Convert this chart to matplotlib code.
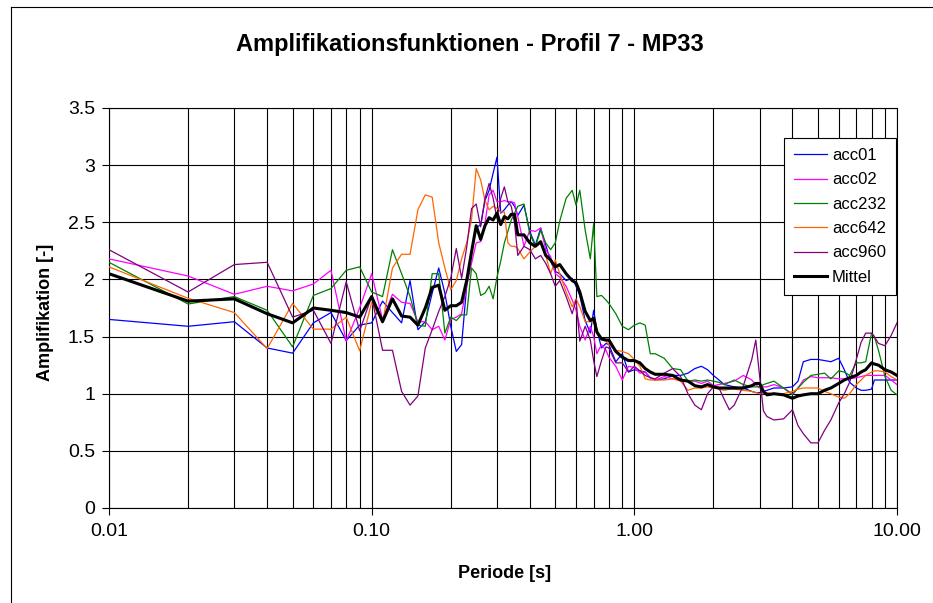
import matplotlib
matplotlib.use("Agg")
import matplotlib.pyplot as plt
from matplotlib.lines import Line2D
from matplotlib.ticker import FixedLocator, NullFormatter

plt.rcParams['font.family'] = ['Liberation Sans', 'DejaVu Sans']

# Periods [s]
period = [
    0.01, 0.02, 0.03, 0.04, 0.05, 0.06, 0.07, 0.08, 0.09, 0.10,
    0.11, 0.12, 0.13, 0.14, 0.15, 0.16, 0.17, 0.18, 0.19, 0.20,
    0.21, 0.22, 0.23, 0.24, 0.25, 0.26, 0.27, 0.28, 0.29, 0.30,
    0.31, 0.32, 0.33, 0.34,
    0.35, 0.36, 0.38, 0.40, 0.42, 0.44, 0.46, 0.48, 0.50, 0.52,
    0.55, 0.58, 0.60, 0.62, 0.65, 0.68, 0.70, 0.72, 0.75, 0.78,
    0.80, 0.85, 0.90, 0.95, 1.00,
    1.05, 1.1, 1.15, 1.2, 1.3, 1.4, 1.5, 1.6, 1.7, 1.8,
    1.9, 2.0, 2.1, 2.2, 2.3, 2.4, 2.6, 2.8, 2.9, 3.0,
    3.1, 3.2, 3.4, 3.7, 4.0, 4.2, 4.4, 4.7, 5.0, 5.3,
    5.6, 6.0, 6.3, 6.6, 7.0, 7.3, 7.6, 8.0, 8.2, 8.5,
    9.0, 9.5, 10.0,
]

acc01 = [
    1.65, 1.59, 1.63, 1.40, 1.355, 1.62, 1.71, 1.465, 1.60, 1.62,
    1.81, 1.71, 1.62, 1.99, 1.56, 1.63, 1.88, 2.10, 1.88, 1.59,
    1.37, 1.43, 1.94, 2.24, 2.45, 2.48, 2.69, 2.78, 2.93, 3.07,
    2.58, 2.61, 2.65, 2.68,
    2.64, 2.56, 2.65, 2.42, 2.30, 2.45, 2.30, 2.16, 2.07, 2.05,
    1.99, 2.01, 1.94, 1.86, 1.64, 1.53, 1.73, 1.56, 1.40, 1.44,
    1.43, 1.28, 1.35, 1.19, 1.21,
    1.20, 1.19, 1.14, 1.12, 1.13, 1.16, 1.16, 1.18, 1.22, 1.24,
    1.21, 1.16, 1.12, 1.08, 1.07, 1.06, 1.05, 1.02, 1.01, 1.01,
    1.02, 1.03, 1.05, 1.05, 1.06, 1.11, 1.28, 1.30, 1.30, 1.29,
    1.28, 1.31, 1.21, 1.10, 1.05, 1.03, 1.03, 1.04, 1.12, 1.12,
    1.12, 1.12, 1.12,
]

acc02 = [
    2.18, 2.03, 1.87, 1.94, 1.90, 1.96, 2.08, 1.46, 1.75, 2.05,
    1.65, 1.87, 1.80, 1.79, 1.63, 1.63, 1.56, 1.59, 1.47, 1.65,
    1.67, 1.70, 1.94, 2.14, 2.32, 2.33, 2.49, 2.74, 2.78, 2.68,
    2.68, 2.69, 2.68, 2.68,
    2.67, 2.55, 2.29, 2.43, 2.42, 2.45, 2.26, 2.20, 2.05, 2.02,
    1.94, 1.82, 1.73, 1.59, 1.47, 1.59, 1.50, 1.35, 1.43, 1.38,
    1.32, 1.24, 1.12, 1.24, 1.23,
    1.18, 1.19, 1.14, 1.12, 1.15, 1.13, 1.12, 1.11, 1.11, 1.09,
    1.11, 1.07, 1.08, 1.09, 1.10, 1.11, 1.16, 1.12, 1.08, 1.05,
    1.06, 1.06, 1.08, 1.05, 1.00, 1.05, 1.12, 1.15, 1.14, 1.14,
    1.14, 1.13, 1.13, 1.13, 1.14, 1.15, 1.16, 1.16, 1.16, 1.16,
    1.16, 1.12, 1.08,
]

acc232 = [
    2.15, 1.785, 1.85, 1.73, 1.41, 1.86, 1.92, 2.08, 2.11, 1.89,
    1.85, 2.26, 2.05, 1.85, 1.60, 1.59, 2.05, 2.05, 1.53, 1.67,
    1.64, 1.69, 1.69, 2.10, 2.05, 1.86, 1.88, 1.94, 1.83, 2.02,
    2.16, 2.32, 2.42, 2.52,
    2.58, 2.64, 2.66, 2.40, 2.29, 2.43, 2.32, 2.26, 2.32, 2.51,
    2.71, 2.78, 2.65, 2.78, 2.43, 2.18, 2.49, 1.85, 1.86, 1.82,
    1.79, 1.70, 1.59, 1.56, 1.60,
    1.62, 1.60, 1.35, 1.35, 1.31, 1.22, 1.21, 1.11, 1.12, 1.11,
    1.12, 1.11, 1.10, 1.08, 1.10, 1.12, 1.08, 1.06, 1.06, 1.06,
    1.08, 1.09, 1.11, 1.05, 0.99, 1.05, 1.10, 1.16, 1.17, 1.18,
    1.13, 1.20, 1.19, 1.16, 1.27, 1.27, 1.28, 1.53, 1.50, 1.38,
    1.15, 1.03, 0.99,
]

acc642 = [
    2.11, 1.835, 1.71, 1.395, 1.79, 1.565, 1.565, 1.67, 1.375, 1.80,
    1.62, 2.10, 2.22, 2.22, 2.61, 2.74, 2.72, 2.32, 2.10, 1.91,
    1.99, 2.18, 2.32, 2.52, 2.97, 2.87, 2.69, 2.61, 2.64, 2.62,
    2.59, 2.59, 2.32, 2.29,
    2.29, 2.27, 2.18, 2.24, 2.29, 2.32, 2.21, 2.05, 2.17, 2.05,
    1.89, 1.76, 1.83, 1.76, 1.63, 1.63, 1.63, 1.53, 1.47, 1.46,
    1.43, 1.38, 1.37, 1.35, 1.30,
    1.24, 1.13, 1.12, 1.12, 1.12, 1.13, 1.11, 1.03, 1.05, 1.05,
    1.06, 1.05, 1.04, 1.03, 1.04, 1.04, 1.03, 1.02, 1.01, 1.00,
    1.00, 1.01, 1.00, 1.00, 1.02, 1.04, 1.05, 1.05, 1.05, 1.02,
    1.00, 0.97, 0.96, 1.00, 1.08, 1.12, 1.16, 1.19, 1.20, 1.20,
    1.19, 1.15, 1.12,
]

acc960 = [
    2.26, 1.89, 2.13, 2.15, 1.67, 1.73, 1.44, 1.98, 1.55, 1.85,
    1.38, 1.38, 1.02, 0.90, 0.98, 1.40, 1.56, 1.72, 1.85, 2.01,
    2.27, 2.01, 2.28, 2.62, 2.66, 2.46, 2.71, 2.84, 2.71, 2.53,
    2.71, 2.81, 2.68, 2.64,
    2.49, 2.21, 2.29, 2.26, 2.18, 2.21, 2.14, 2.05, 1.94, 1.99,
    1.85, 1.70, 1.82, 1.46, 1.59, 1.47, 1.29, 1.15, 1.29, 1.41,
    1.40, 1.27, 1.27, 1.19, 1.24,
    1.20, 1.16, 1.14, 1.13, 1.18, 1.22, 1.15, 1.00, 0.90, 0.86,
    1.00, 1.06, 1.05, 0.95, 0.86, 0.90, 1.07, 1.30, 1.47, 1.15,
    0.85, 0.80, 0.77, 0.78, 0.86, 0.72, 0.65, 0.57, 0.57, 0.68,
    0.77, 0.92, 1.00, 1.10, 1.30, 1.45, 1.53, 1.53, 1.50, 1.44,
    1.42, 1.51, 1.62,
]

mittel = [
    2.05, 1.81, 1.83, 1.70, 1.62, 1.75, 1.73, 1.71, 1.67, 1.85,
    1.63, 1.83, 1.68, 1.67, 1.60, 1.75, 1.93, 1.95, 1.73, 1.77,
    1.77, 1.80, 1.99, 2.24, 2.47, 2.35, 2.47, 2.54, 2.52, 2.58,
    2.48, 2.55, 2.53, 2.57,
    2.57, 2.39, 2.39, 2.32, 2.29, 2.33, 2.21, 2.17, 2.11, 2.13,
    2.05, 1.99, 1.97, 1.89, 1.72, 1.64, 1.66, 1.54, 1.48, 1.47,
    1.47, 1.37, 1.32, 1.29, 1.29,
    1.27, 1.22, 1.19, 1.17, 1.17, 1.16, 1.12, 1.11, 1.07, 1.06,
    1.08, 1.06, 1.05, 1.05, 1.05, 1.05, 1.05, 1.07, 1.09, 1.09,
    1.02, 0.99, 1.00, 0.99, 0.96, 0.98, 0.99, 1.00, 1.00, 1.03,
    1.05, 1.09, 1.12, 1.14, 1.16, 1.19, 1.21, 1.27, 1.26, 1.25,
    1.21, 1.19, 1.16,
]

series = [
    ("acc01", acc01, "#0000FF", 0.9),
    ("acc02", acc02, "#FF00FF", 0.9),
    ("acc232", acc232, "#008000", 0.9),
    ("acc642", acc642, "#FF6600", 0.9),
    ("acc960", acc960, "#800080", 0.9),
    ("Mittel", mittel, "#000000", 2.2),
]

x_ticks = [0.01, 0.1, 1.0, 10.0]
x_ticklabels = ["0.01", "0.10", "1.00", "10.00"]
y_ticks = [0, 0.5, 1, 1.5, 2, 2.5, 3, 3.5]
y_ticklabels = ["0", "0.5", "1", "1.5", "2", "2.5", "3", "3.5"]

W, H = 933, 603
fig = plt.figure(figsize=(W / 100, H / 100), dpi=100)
fig.patch.set_facecolor("white")

# plot area in pixel coordinates
left, right, top, bottom = 109, 897, 108, 508
ax = fig.add_axes([left / W, 1 - bottom / H, (right - left) / W, (bottom - top) / H])

for name, vals, col, lw in series:
    ax.plot(period, vals, color=col, lw=lw, label=name, zorder=3)

ax.set_xscale("log")
ax.set_xlim(0.01, 10)
ax.set_ylim(0, 3.5)

ax.xaxis.set_major_locator(FixedLocator(x_ticks))
ax.set_xticklabels(x_ticklabels)
minor = [m * 10.0 ** e for e in (-2, -1, 0) for m in range(2, 10)]
ax.xaxis.set_minor_locator(FixedLocator(minor))
ax.xaxis.set_minor_formatter(NullFormatter())
ax.set_yticks(y_ticks)
ax.set_yticklabels(y_ticklabels)

ax.grid(True, which="both", axis="x", color="black", lw=0.8, zorder=1)
ax.grid(True, which="major", axis="y", color="black", lw=0.8, zorder=1)
ax.tick_params(axis="x", which="minor", length=0)
ax.tick_params(axis="both", which="major", labelsize=14, length=5, width=0.8,
               direction="out", color="black")
ax.tick_params(axis="x", which="major", pad=6)
ax.tick_params(axis="y", which="major", pad=5)
for sp in ax.spines.values():
    sp.set_color("black")
    sp.set_linewidth(0.8)

fig.text(470 / W, 1 - 45 / H, "Amplifikationsfunktionen - Profil 7 - MP33",
         ha="center", va="center", fontsize=17, fontweight="bold")
fig.text(505 / W, 1 - 573 / H, "Periode [s]", ha="center", va="center",
         fontsize=13, fontweight="bold")
fig.text(45 / W, 1 - 312 / H, "Amplifikation [-]", ha="center", va="center",
         rotation=90, fontsize=13, fontweight="bold")

leg = ax.legend(loc="upper right", bbox_to_anchor=(896 / W, 1 - 138 / H),
                bbox_transform=fig.transFigure, borderaxespad=0,
                fontsize=12, frameon=True, fancybox=False, framealpha=1,
                edgecolor="black", handlelength=2.0, handletextpad=0.3,
                labelspacing=0.56, borderpad=0.6)
leg.get_frame().set_linewidth(0.8)
leg.set_zorder(5)

# chart-area border (left and top edges)
fig.add_artist(Line2D([11 / W, 11 / W], [0, 1 - 7 / H], transform=fig.transFigure,
                      color="black", lw=0.8))
fig.add_artist(Line2D([11 / W, 1], [1 - 7 / H, 1 - 7 / H], transform=fig.transFigure,
                      color="black", lw=0.8))

fig.savefig("out.png", dpi=100)
